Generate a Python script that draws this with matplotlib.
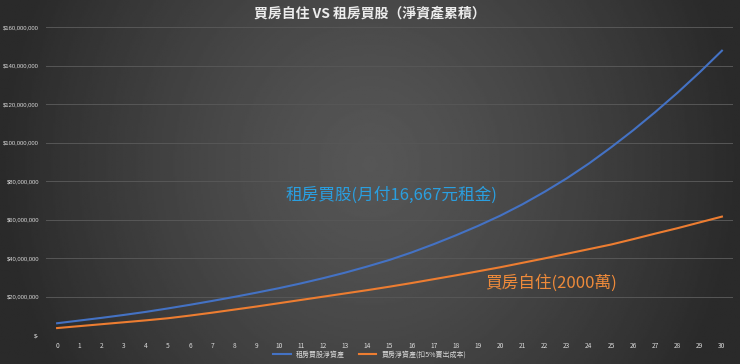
import numpy as np
import matplotlib
matplotlib.use("Agg")
import matplotlib.pyplot as plt
from matplotlib.ticker import FuncFormatter

plt.rcParams['font.family'] = ['Noto Sans CJK TC', 'DejaVu Sans']

years = list(range(31))
# net assets, in millions
rent_invest = [6.1, 7.5, 8.9, 10.4, 12.0, 13.8, 15.7, 17.7, 19.8, 22.0,
               24.3, 26.8, 29.5, 32.4, 35.6, 39.0, 42.9, 47.2, 51.8, 56.7,
               62.0, 67.9, 74.4, 81.4, 89.1, 97.5, 106.4, 115.9, 125.9, 136.5,
               147.7]
buy_home = [3.6, 4.6, 5.6, 6.6, 7.6, 8.7, 10.1, 11.6, 13.2, 14.8,
            16.5, 18.2, 19.9, 21.6, 23.3, 25.1, 27.0, 29.0, 31.0, 33.1,
            35.2, 37.5, 39.8, 42.2, 44.6, 47.0, 49.8, 52.7, 55.5, 58.5,
            61.5]
series_names = ["租房買股淨資產", "買房淨資產(扣5%賣出成本)"]
title = "買房自住 VS 租房買股（淨資產累積）"
note_rent = "租房買股(月付16,667元租金)"
note_buy = "買房自住(2000萬)"

fig = plt.figure(figsize=(7.4, 3.64), dpi=100)

# dark radial background
bg = fig.add_axes([0, 0, 1, 1], zorder=-10)
gx, gy = np.meshgrid(np.linspace(-1, 1, 400), np.linspace(-1, 1, 200))
r = np.sqrt((gx / 1.0) ** 2 + ((gy + 0.1) / 2.2) ** 2)
shade = (86 - 44 * np.clip(r, 0, 1) ** 1.3) / 255
bg.imshow(shade, cmap="gray", vmin=0, vmax=1, aspect="auto", extent=[0, 1, 0, 1])
bg.axis("off")

ax = fig.add_axes([46 / 740, 1 - 335 / 364, (733 - 46) / 740, (335 - 27) / 364])
ax.patch.set_alpha(0)

y1 = np.array(rent_invest) * 1e6
y2 = np.array(buy_home) * 1e6
ax.plot(years, y1, color="#4472C4", lw=1.5, label=series_names[0])
ax.plot(years, y2, color="#ED7D31", lw=1.5, label=series_names[1])

ax.set_xlim(-0.5, 30.5)
ax.set_ylim(0, 160e6)
ax.set_xticks(years)
ax.set_yticks(np.arange(0, 161e6, 20e6))
ax.yaxis.set_major_formatter(FuncFormatter(lambda v, p: "$-" if v == 0 else f"${v:,.0f}"))
ax.grid(axis="y", color="#575757", lw=0.7)
ax.set_axisbelow(True)
for s in ax.spines.values():
    s.set_visible(False)
ax.tick_params(axis="x", length=0, labelsize=4.8, colors="#d9d9d9", pad=5)
ax.tick_params(axis="y", length=0, labelsize=4.2, colors="#d9d9d9", pad=5)
for lab in ax.get_yticklabels():
    lab.set_family('Liberation Sans')

fig.text(0.5, 0.963, title, ha="center", va="center", fontsize=10,
         fontweight="bold", color="#ececec")

ax.text(15.1, 72.5e6, note_rent, ha="center", va="center", fontsize=12,
        color="#2a9fe0")
ax.text(22.3, 27e6, note_buy, ha="center", va="center", fontsize=12,
        color="#ee8a3a")

leg = fig.legend(loc="center", bbox_to_anchor=(0.5, 0.025), ncol=2, frameon=False,
                 fontsize=5, labelcolor="#d9d9d9", handlelength=2.5, columnspacing=2)

fig.savefig("out.png", dpi=100)
